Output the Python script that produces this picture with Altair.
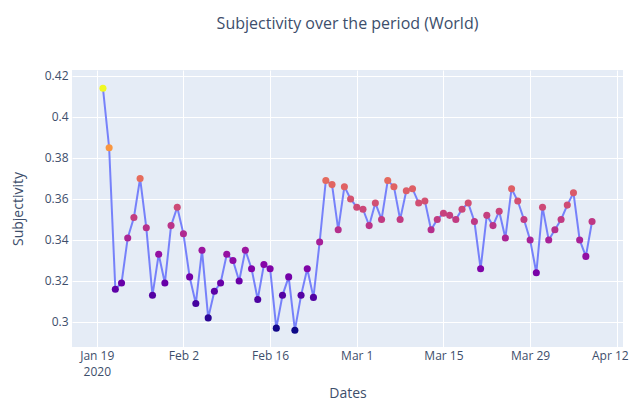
import altair as alt
import pandas as pd

# Daily dates from 2020-01-20 to 2020-04-08
dates = [d.strftime("%Y-%m-%dT00:00:00") for d in pd.date_range("2020-01-20", "2020-04-08", freq="D")]

subjectivity = [
    0.414, 0.385, 0.316, 0.319, 0.341, 0.351, 0.370, 0.346, 0.313, 0.333,
    0.319, 0.347, 0.356, 0.343, 0.322, 0.309, 0.335, 0.302, 0.315, 0.319,
    0.333, 0.330, 0.320, 0.335, 0.326, 0.311, 0.328, 0.326, 0.297, 0.313,
    0.322, 0.296, 0.313, 0.326, 0.312, 0.339, 0.369, 0.367, 0.345, 0.366,
    0.360, 0.356, 0.355, 0.347, 0.358, 0.350, 0.369, 0.366, 0.350, 0.364,
    0.365, 0.358, 0.359, 0.345, 0.350, 0.353, 0.352, 0.350, 0.355, 0.358,
    0.349, 0.326, 0.352, 0.347, 0.354, 0.341, 0.365, 0.359, 0.350, 0.340,
    0.324, 0.356, 0.340, 0.345, 0.350, 0.357, 0.363, 0.340, 0.332, 0.349,
]

y_ticks = [0.30, 0.32, 0.34, 0.36, 0.38, 0.40, 0.42]
x_ticks = [(1, 19), (2, 2), (2, 16), (3, 1), (3, 15), (3, 29), (4, 12)]

df = pd.DataFrame({"date": dates, "subjectivity": subjectivity})

TEXT = "#3d4e6b"
FONT = "Open Sans"

x_enc = alt.X(
    "date:T",
    scale=alt.Scale(domain=[alt.DateTime(year=2020, month=1, date=15),
                            alt.DateTime(year=2020, month=4, date=13)]),
    axis=alt.Axis(
        values=[alt.DateTime(year=2020, month=m, date=d) for m, d in x_ticks],
        labelExpr="(month(datum.value) == 0 && date(datum.value) == 19) ? ['Jan 19', '2020'] : timeFormat(datum.value, '%b %-d')",
        title="Dates",
        titleY=50,
        titleBaseline="alphabetic",
        labelLineHeight=16,
        labelPadding=3,
        labelFlush=False,
        labelOverlap=False,
        labelOffset={"condition": {"test": "month(datum.value) == 3", "value": -7}, "value": 0},
    ),
)
y_enc = alt.Y(
    "subjectivity:Q",
    scale=alt.Scale(domain=[0.2878, 0.4229], nice=False, zero=False),
    axis=alt.Axis(values=y_ticks, format=".2~f", title="Subjectivity",
                  titleX=-47, labelPadding=4),
)

base = alt.Chart(df).encode(x=x_enc, y=y_enc)

line = base.mark_line(color="#636efa", strokeWidth=2, opacity=0.85)
points = base.mark_circle(size=50, opacity=1).encode(
    color=alt.Color("subjectivity:Q", scale=alt.Scale(scheme="plasma"), legend=None)
)

chart = (
    (line + points)
    .properties(
        width=551,
        height=277,
        autosize=alt.AutoSizeParams(type="none"),
        padding={"left": 64, "top": 62, "right": 7, "bottom": 55},
        title=alt.TitleParams(
            "Subjectivity over the period (World)",
            fontSize=16, font=FONT, fontWeight="normal", color=TEXT,
            anchor="middle", frame="group", offset=38,
        ),
    )
    .configure_view(fill="#E5ECF6", stroke=None)
    .configure_axis(
        domain=False, ticks=False, grid=True, gridColor="white", gridWidth=1,
        labelFont=FONT, labelFontSize=12, labelColor=TEXT,
        titleFont=FONT, titleFontSize=14, titleFontWeight="normal", titleColor=TEXT,
    )
)

chart.save("out.html", embed_options={"renderer": "svg", "actions": False})
